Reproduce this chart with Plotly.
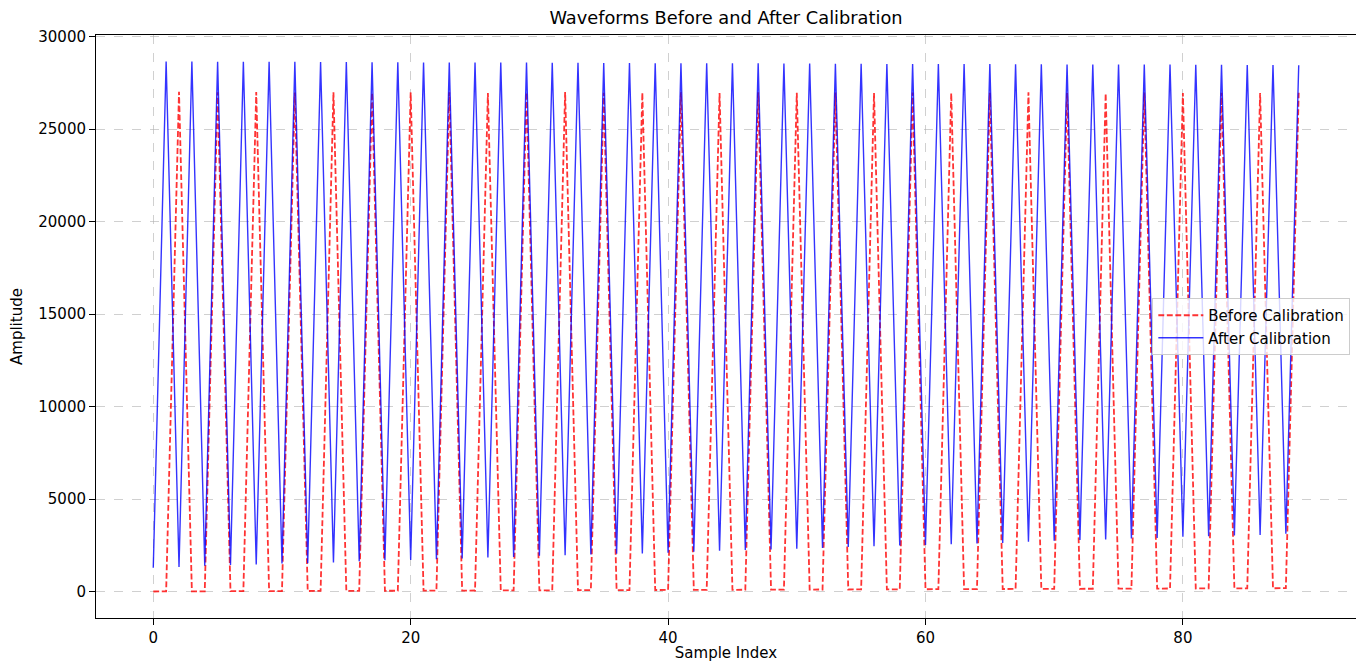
import plotly.graph_objects as go

# sample index and the two waveforms
sample_index = list(range(90))

before_calibration = [
    0, 5, 27020,
    10, 12, 26990,
    15, 18, 27010,
    20, 24, 26980,
    28, 30, 27000,
    32, 36, 26970,
    38, 42, 26990,
    45, 48, 27000,
    50, 54, 26960,
    56, 60, 26990,
    62, 66, 27010,
    68, 72, 26970,
    74, 78, 26980,
    80, 84, 27000,
    86, 90, 26950,
    92, 96, 26990,
    98, 102, 26970,
    104, 108, 26980,
    110, 114, 26960,
    116, 120, 26980,
    122, 126, 26950,
    128, 132, 26970,
    134, 138, 26990,
    140, 144, 26960,
    146, 150, 26940,
    152, 156, 26980,
    158, 162, 26960,
    164, 168, 26970,
    170, 174, 26950,
    176, 180, 26970,
]

after_calibration = [
    1280, 28660, 1330, 28660, 1390, 28650, 1430, 28650, 1460, 28640,
    1510, 28640, 1530, 28630, 1570, 28630, 1640, 28620, 1690, 28620,
    1700, 28610, 1750, 28610, 1780, 28600, 1840, 28600, 1870, 28600,
    1930, 28590, 1960, 28590, 2000, 28580, 2040, 28580, 2060, 28570,
    2090, 28570, 2150, 28560, 2200, 28560, 2240, 28560, 2270, 28550,
    2310, 28550, 2360, 28540, 2410, 28540, 2450, 28530, 2490, 28530,
    2510, 28530, 2560, 28520, 2600, 28520, 2630, 28510, 2690, 28510,
    2740, 28500, 2780, 28500, 2810, 28500, 2870, 28490, 2900, 28490,
    2960, 28480, 2990, 28480, 3030, 28470, 3060, 28470, 3120, 28460,
]

y_ticks = [0, 5000, 10000, 15000, 20000, 25000, 30000]
x_ticks = [0, 20, 40, 60, 80]

fig = go.Figure()
fig.add_trace(go.Scatter(x=sample_index, y=before_calibration, mode="lines",
                         name="Before Calibration",
                         line=dict(color="rgba(255,0,0,0.8)", width=1.8, dash="5.9px,2.6px")))
fig.add_trace(go.Scatter(x=sample_index, y=after_calibration, mode="lines",
                         name="After Calibration",
                         line=dict(color="rgba(0,0,255,0.8)", width=1.4)))

# matplotlib-ish margins: 5% of data span on each side
x_pad = 0.05 * (max(sample_index) - min(sample_index))
y_lo = min(before_calibration + after_calibration)
y_hi = max(before_calibration + after_calibration)
y_pad = 0.05 * (y_hi - y_lo)

axis_style = dict(showline=True, linecolor="black", linewidth=1, mirror=True,
                  ticks="outside", ticklen=6, tickcolor="black", automargin=False,
                  showgrid=True, gridcolor="rgba(176,176,176,0.6)", griddash="dash", gridwidth=1,
                  zeroline=False, tickfont=dict(size=15, color="black"))

# the page body has an 8px margin, so the figure is sized to fit inside it
fig.update_layout(
    width=1348, height=654,
    margin=dict(l=88, r=0, t=27, b=44),
    paper_bgcolor="white", plot_bgcolor="white",
    font=dict(family="DejaVu Sans", color="black"),
    title=dict(text="Waveforms Before and After Calibration", x=0.5, xref="paper",
               y=0.985, yanchor="middle", font=dict(size=17.8)),
    xaxis=dict(range=[min(sample_index) - x_pad, max(sample_index) + x_pad],
               tickvals=x_ticks, tickformat="d",
               title=dict(text="Sample Index", font=dict(size=15), standoff=10),
               **axis_style),
    yaxis=dict(range=[y_lo - y_pad, y_hi + y_pad], tickvals=y_ticks, tickformat="d",
               title=dict(text="Amplitude", font=dict(size=15), standoff=12),
               **axis_style),
    legend=dict(x=0.9955, xanchor="right", y=0.5, yanchor="middle",
                bgcolor="rgba(255,255,255,0.8)", bordercolor="#cccccc", borderwidth=1,
                font=dict(size=15), itemwidth=45, tracegroupgap=0),
    showlegend=True,
)

fig.write_html("out.html")
